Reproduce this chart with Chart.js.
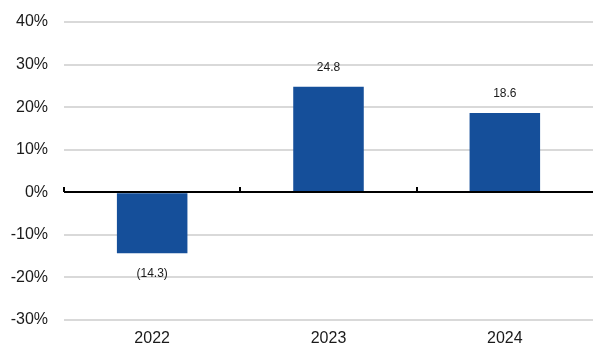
<!DOCTYPE html>
<html>
<head>
<meta charset="utf-8">
<script src="https://cdn.jsdelivr.net/npm/chart.js@4/dist/chart.umd.min.js"></script>
<style>
  html, body { margin: 0; padding: 0; background: #fff; }
  #wrap { width: 593px; height: 345px; }
</style>
</head>
<body>
<div id="wrap"><canvas id="c"></canvas></div>
<script>
// Annual return by year (%)
const years = ['2022', '2023', '2024'];
const returns = [-14.3, 24.8, 18.6];
const yTicks = [-30, -20, -10, 0, 10, 20, 30, 40];

const barColor = '#154f9a';
const textColor = '#1a1a1a';
const font = 'Arial, "Liberation Sans", sans-serif';

function fmtLabel(v) {
  return v < 0 ? '(' + Math.abs(v).toFixed(1) + ')' : v.toFixed(1);
}

// Value labels above/below each bar, plus the black zero axis with
// small upward ticks at category boundaries
const overlay = {
  id: 'overlay',
  afterDatasetsDraw(chart) {
    const { ctx, scales: { x, y }, chartArea } = chart;
    const meta = chart.getDatasetMeta(0);
    ctx.save();
    ctx.font = '12px ' + font;
    ctx.fillStyle = textColor;
    ctx.textAlign = 'center';
    ctx.textBaseline = 'middle';
    meta.data.forEach((bar, i) => {
      const v = returns[i];
      const yy = v < 0 ? bar.y + 21 : bar.y - 19;
      ctx.fillText(fmtLabel(v), bar.x, yy);
    });
    const y0 = Math.round(y.getPixelForValue(0));
    ctx.strokeStyle = '#000';
    ctx.lineWidth = 2;
    ctx.beginPath();
    ctx.moveTo(chartArea.left, y0);
    ctx.lineTo(chartArea.right, y0);
    ctx.stroke();
    ctx.beginPath();
    for (let i = 0; i < years.length; i++) {
      const xx = Math.round(x.getPixelForValue(i - 0.5));
      ctx.moveTo(xx, y0);
      ctx.lineTo(xx, y0 - 5);
    }
    ctx.stroke();
    ctx.restore();
  }
};

new Chart(document.getElementById('c'), {
  type: 'bar',
  data: {
    labels: years,
    datasets: [{
      data: returns,
      backgroundColor: barColor,
      borderWidth: 0,
      barPercentage: 0.4,
      categoryPercentage: 1.0
    }]
  },
  options: {
    responsive: true,
    maintainAspectRatio: false,
    animation: false,
    layout: { padding: { top: 22, right: 0, bottom: 0, left: 0 } },
    plugins: { legend: { display: false }, tooltip: { enabled: false } },
    scales: {
      x: {
        grid: { display: false },
        border: { display: false },
        ticks: { color: textColor, font: { family: font, size: 16 }, padding: 1 },
        afterFit(s) { s.height = 25; s.paddingLeft = 0; s.paddingRight = 0; }
      },
      y: {
        min: -30,
        max: 40,
        afterBuildTicks(s) { s.ticks = yTicks.map(v => ({ value: v })); },
        grid: { color: '#d9d9d9', lineWidth: 2, drawTicks: false },
        border: { display: false },
        ticks: {
          color: textColor,
          font: { family: font, size: 16 },
          padding: 16,
          callback: v => v + '%'
        },
        afterFit(s) { s.width = 64; s.paddingTop = 0; s.paddingBottom = 0; }
      }
    }
  },
  plugins: [overlay]
});
</script>
</body>
</html>
